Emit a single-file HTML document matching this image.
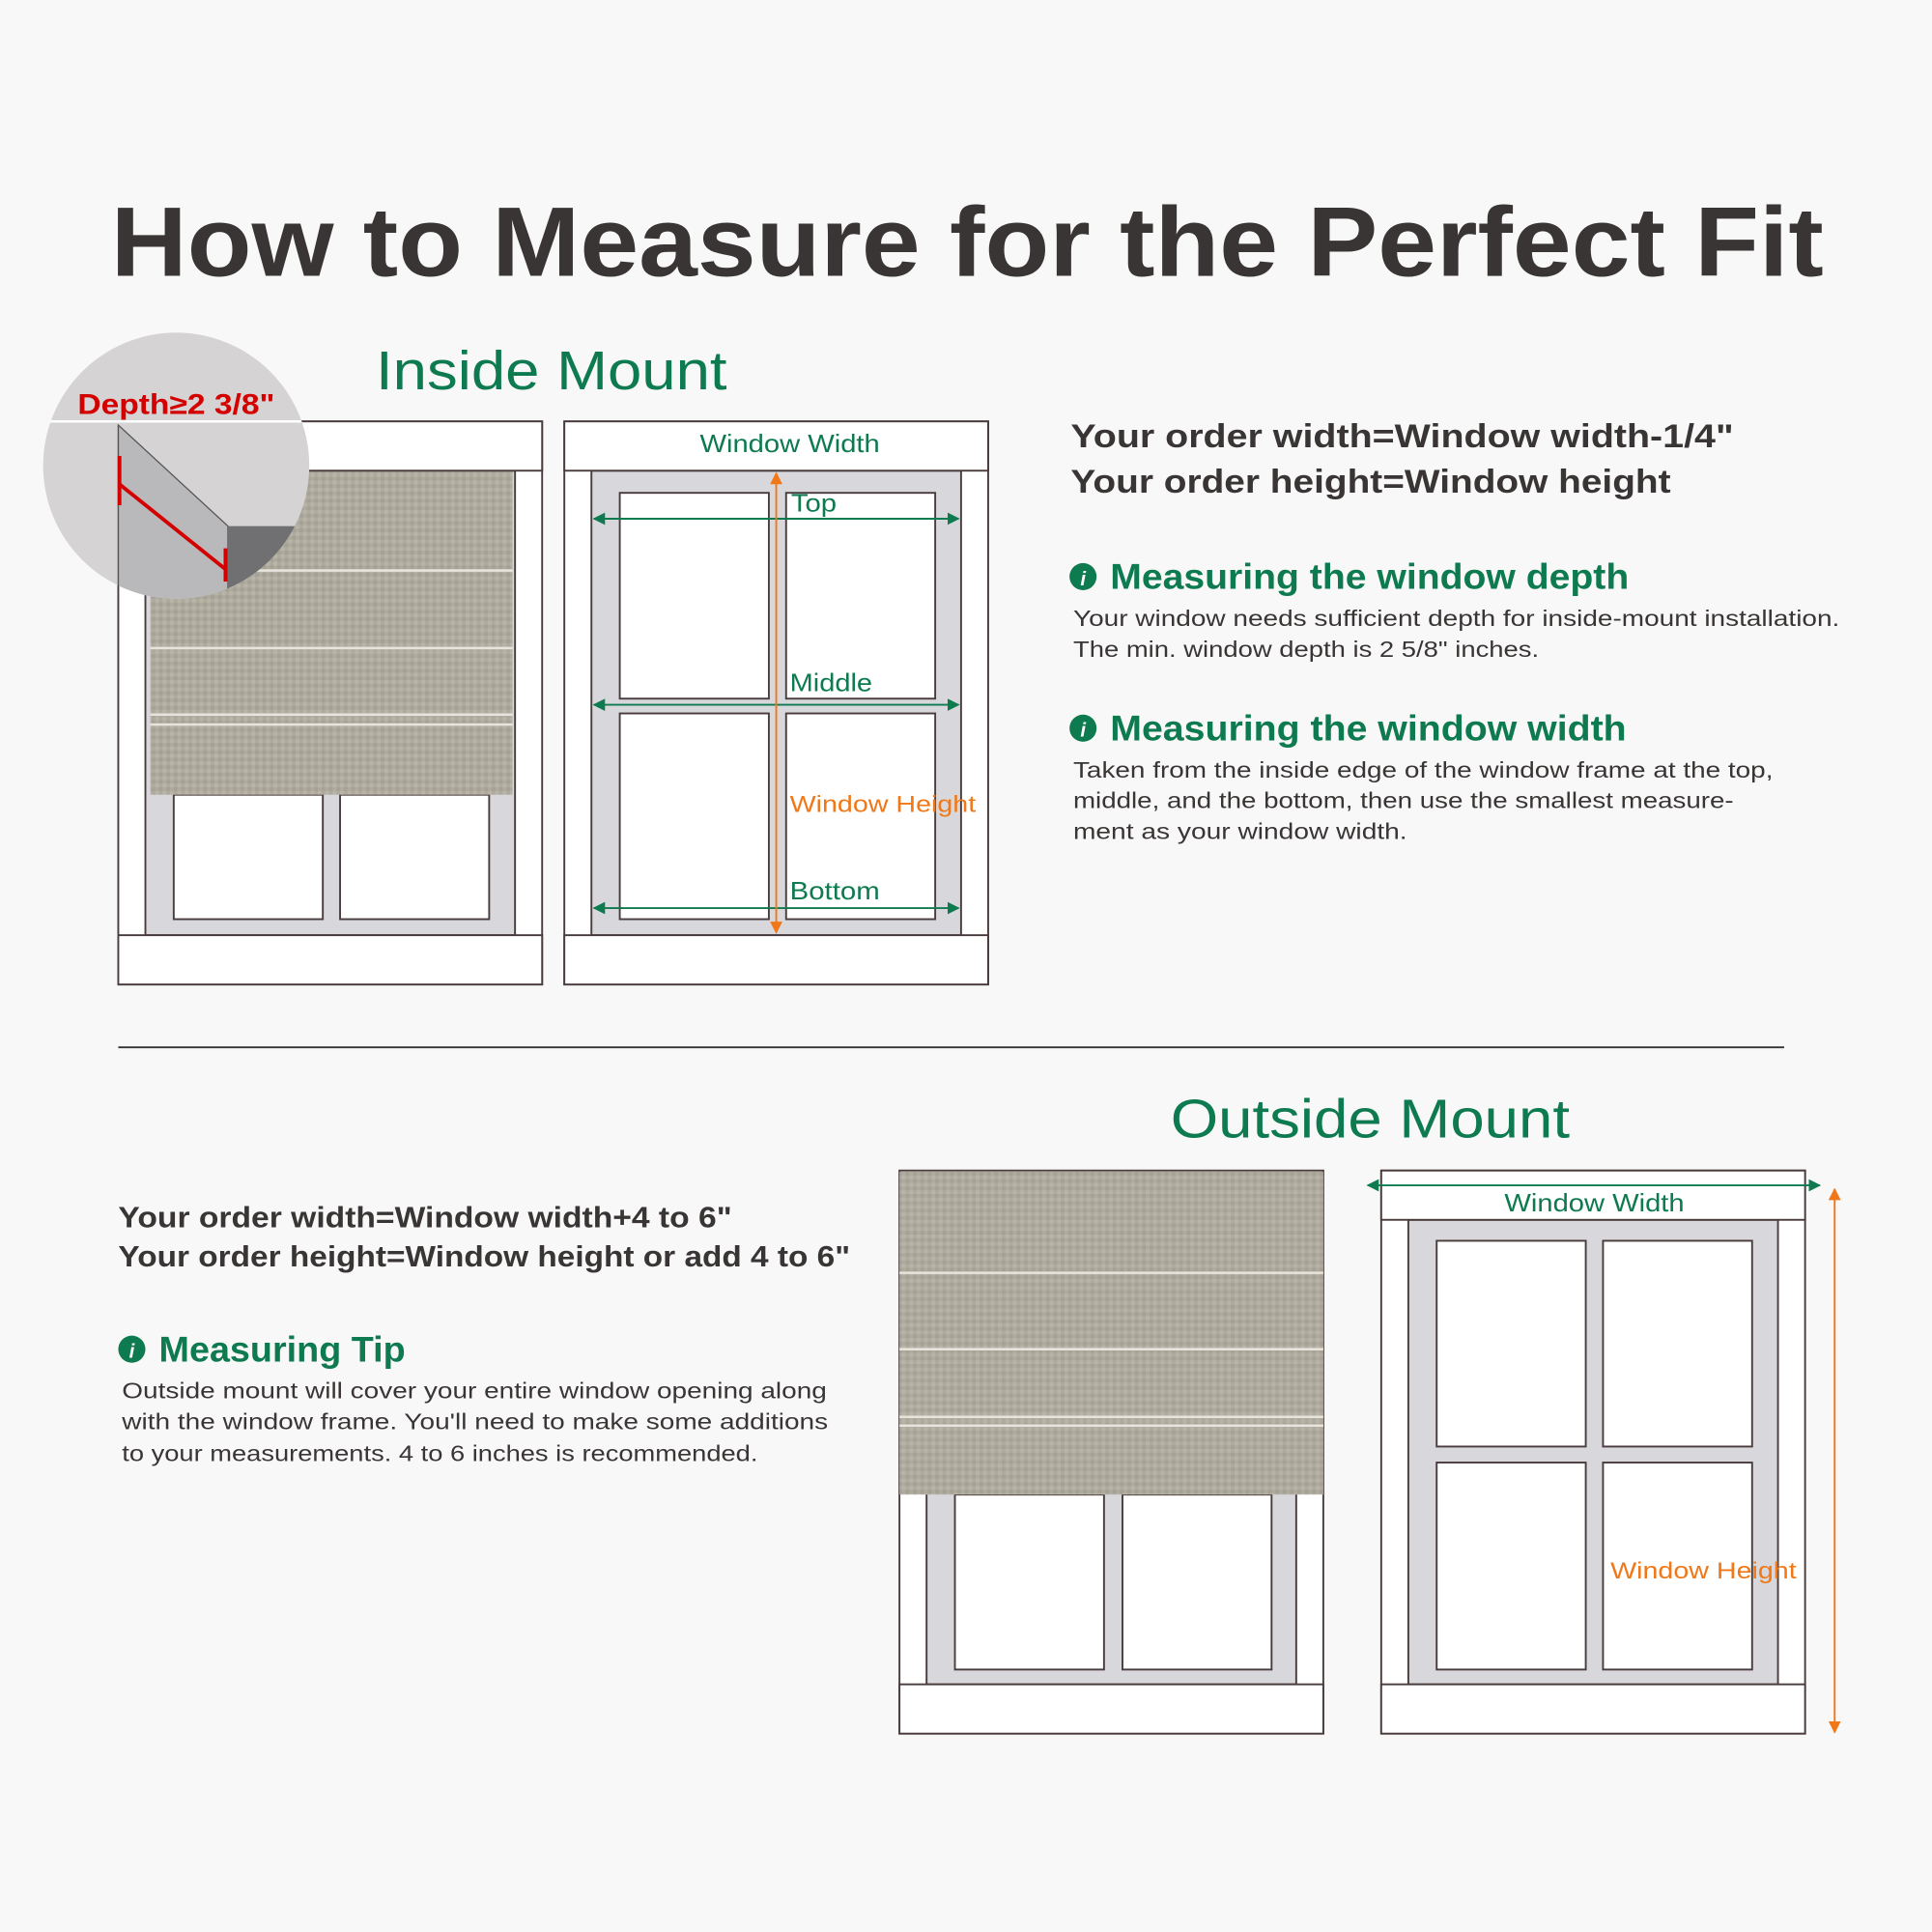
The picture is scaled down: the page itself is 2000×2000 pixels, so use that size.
<!DOCTYPE html>
<html><head><meta charset="utf-8"><style>
html,body{margin:0;padding:0;background:#f8f8f8;}
svg{display:block;}
text{font-family:"Liberation Sans",sans-serif;}
</style></head><body>
<svg width="2000" height="2000" viewBox="0 0 1568 1568" xmlns="http://www.w3.org/2000/svg">
<defs>
<pattern id="tex" width="6" height="6" patternUnits="userSpaceOnUse">
<rect width="6" height="6" fill="#aeab9e"/>
<rect x="0" y="0" width="3" height="3" fill="#b8b5a8"/>
<rect x="3" y="3" width="3" height="3" fill="#a5a295"/>
</pattern>
<clipPath id="cc"><circle cx="143" cy="378" r="108"/></clipPath>
<marker id="ag" viewBox="0 0 10 10" refX="9" refY="5" markerWidth="10" markerHeight="10" markerUnits="userSpaceOnUse" orient="auto-start-reverse"><path d="M0,0L10,5L0,10z" fill="#0e7a4f"/></marker>
<marker id="ao" viewBox="0 0 10 10" refX="9" refY="5" markerWidth="10" markerHeight="10" markerUnits="userSpaceOnUse" orient="auto-start-reverse"><path d="M0,0L10,5L0,10z" fill="#f07818"/></marker>
</defs>
<rect width="1568" height="1568" fill="#f8f8f8"/>
<text x="90" y="224" font-size="80" font-weight="bold" fill="#3a3535" textLength="1390" lengthAdjust="spacingAndGlyphs">How to Measure for the Perfect Fit</text>
<text x="305" y="316" font-size="44" fill="#0e7a4f" textLength="285" lengthAdjust="spacingAndGlyphs">Inside Mount</text>

<!-- Window 1 -->
<g stroke="#4a3c3c" stroke-width="1.5">
<rect x="96" y="342" width="344" height="457" fill="#fff"/>
<rect x="118" y="382" width="300" height="377" fill="#d8d8dc"/>
<rect x="96" y="342" width="344" height="40" fill="#fff"/>
<rect x="96" y="759" width="344" height="40" fill="#fff"/>
<rect x="141" y="645" width="121" height="101" fill="#fff"/>
<rect x="276" y="645" width="121" height="101" fill="#fff"/>
</g>
<rect x="122" y="383" width="294" height="262" fill="url(#tex)"/>
<g stroke="#e6e4dc" stroke-width="2"><line x1="122" y1="463" x2="416" y2="463"/><line x1="122" y1="526" x2="416" y2="526"/><line x1="122" y1="580" x2="416" y2="580"/><line x1="122" y1="588" x2="416" y2="588"/></g>

<!-- circle inset -->
<circle cx="143" cy="378" r="108" fill="#d5d3d3"/>
<g clip-path="url(#cc)">
<line x1="30" y1="342" x2="260" y2="342" stroke="#fff" stroke-width="2"/>
<polygon points="96,345 185,427 185,490 96,490" fill="#b9b9bb" stroke="#555" stroke-width="1"/>
<polygon points="185,427 260,427 260,490 185,490" fill="#707072"/>
<line x1="96" y1="345" x2="96" y2="490" stroke="#555"/>
</g>
<line x1="97" y1="393" x2="183" y2="462" stroke="#d40000" stroke-width="3"/>
<line x1="97" y1="370" x2="97" y2="410" stroke="#d40000" stroke-width="3"/>
<line x1="183" y1="445" x2="183" y2="472" stroke="#d40000" stroke-width="3"/>
<text x="63" y="336" font-size="23" font-weight="bold" fill="#d40000" textLength="160" lengthAdjust="spacingAndGlyphs">Depth≥2 3/8"</text>

<!-- Window 2 -->
<g stroke="#4a3c3c" stroke-width="1.5">
<rect x="458" y="342" width="344" height="457" fill="#fff"/>
<rect x="480" y="382" width="300" height="377" fill="#d8d8dc"/>
<rect x="458" y="342" width="344" height="40" fill="#fff"/>
<rect x="458" y="759" width="344" height="40" fill="#fff"/>
<rect x="503" y="400" width="121" height="167" fill="#fff"/>
<rect x="638" y="400" width="121" height="167" fill="#fff"/>
<rect x="503" y="579" width="121" height="167" fill="#fff"/>
<rect x="638" y="579" width="121" height="167" fill="#fff"/>
</g>
<text x="568" y="367" font-size="20" fill="#0e7a4f" textLength="146" lengthAdjust="spacingAndGlyphs">Window Width</text>
<g stroke="#0e7a4f" stroke-width="1.5" marker-start="url(#ag)" marker-end="url(#ag)">
<line x1="482" y1="421" x2="778" y2="421"/><line x1="482" y1="572" x2="778" y2="572"/><line x1="482" y1="737" x2="778" y2="737"/>
</g>
<line x1="630" y1="384" x2="630" y2="757" stroke="#f07818" stroke-width="1.5" marker-start="url(#ao)" marker-end="url(#ao)"/>
<text x="642" y="415" font-size="20" fill="#0e7a4f" textLength="37" lengthAdjust="spacingAndGlyphs">Top</text>
<text x="641" y="561" font-size="20" fill="#0e7a4f" textLength="67" lengthAdjust="spacingAndGlyphs">Middle</text>
<text x="641" y="659" font-size="19" fill="#f07818" textLength="151" lengthAdjust="spacingAndGlyphs">Window Height</text>
<text x="641" y="730" font-size="20" fill="#0e7a4f" textLength="73" lengthAdjust="spacingAndGlyphs">Bottom</text>

<!-- Right texts -->
<text x="869" y="363" font-size="27" font-weight="bold" fill="#3a3535" textLength="538" lengthAdjust="spacingAndGlyphs">Your order width=Window width-1/4"</text>
<text x="869" y="400" font-size="27" font-weight="bold" fill="#3a3535" textLength="487" lengthAdjust="spacingAndGlyphs">Your order height=Window height</text>
<circle cx="879" cy="468" r="11" fill="#0e7a4f"/><text x="879" y="475" font-size="16" font-style="italic" font-weight="bold" fill="#fff" text-anchor="middle">i</text>
<text x="901" y="478" font-size="29" font-weight="bold" fill="#0e7a4f" textLength="421" lengthAdjust="spacingAndGlyphs">Measuring the window depth</text>
<text x="871" y="508" font-size="18" fill="#3a3535" textLength="622" lengthAdjust="spacingAndGlyphs">Your window needs sufficient depth for inside-mount installation.</text>
<text x="871" y="533" font-size="18" fill="#3a3535" textLength="378" lengthAdjust="spacingAndGlyphs">The min. window depth is 2 5/8" inches.</text>
<circle cx="879" cy="591" r="11" fill="#0e7a4f"/><text x="879" y="598" font-size="16" font-style="italic" font-weight="bold" fill="#fff" text-anchor="middle">i</text>
<text x="901" y="601" font-size="29" font-weight="bold" fill="#0e7a4f" textLength="419" lengthAdjust="spacingAndGlyphs">Measuring the window width</text>
<text x="871" y="631" font-size="18" fill="#3a3535" textLength="568" lengthAdjust="spacingAndGlyphs">Taken from the inside edge of the window frame at the top,</text>
<text x="871" y="656" font-size="18" fill="#3a3535" textLength="536" lengthAdjust="spacingAndGlyphs">middle, and the bottom, then use the smallest measure-</text>
<text x="871" y="681" font-size="18" fill="#3a3535" textLength="271" lengthAdjust="spacingAndGlyphs">ment as your window width.</text>

<line x1="96" y1="850" x2="1448" y2="850" stroke="#333" stroke-width="1.5"/>

<text x="950" y="923" font-size="44" fill="#0e7a4f" textLength="324" lengthAdjust="spacingAndGlyphs">Outside Mount</text>
<text x="96" y="996" font-size="24" font-weight="bold" fill="#3a3535" textLength="498" lengthAdjust="spacingAndGlyphs">Your order width=Window width+4 to 6"</text>
<text x="96" y="1028" font-size="24" font-weight="bold" fill="#3a3535" textLength="594" lengthAdjust="spacingAndGlyphs">Your order height=Window height or add 4 to 6"</text>
<circle cx="107" cy="1095" r="11" fill="#0e7a4f"/><text x="107" y="1102" font-size="16" font-style="italic" font-weight="bold" fill="#fff" text-anchor="middle">i</text>
<text x="129" y="1105" font-size="29" font-weight="bold" fill="#0e7a4f" textLength="200" lengthAdjust="spacingAndGlyphs">Measuring Tip</text>
<text x="99" y="1135" font-size="18" fill="#3a3535" textLength="572" lengthAdjust="spacingAndGlyphs">Outside mount will cover your entire window opening along</text>
<text x="99" y="1160" font-size="18" fill="#3a3535" textLength="573" lengthAdjust="spacingAndGlyphs">with the window frame. You'll need to make some additions</text>
<text x="99" y="1186" font-size="18" fill="#3a3535" textLength="516" lengthAdjust="spacingAndGlyphs">to your measurements. 4 to 6 inches is recommended.</text>

<!-- Window 3 -->
<g stroke="#4a3c3c" stroke-width="1.5">
<rect x="730" y="950" width="344" height="457" fill="#fff"/>
<rect x="752" y="990" width="300" height="377" fill="#d8d8dc"/>
<rect x="730" y="1367" width="344" height="40" fill="#fff"/>
<rect x="775" y="1213" width="121" height="142" fill="#fff"/>
<rect x="911" y="1213" width="121" height="142" fill="#fff"/>
</g>
<rect x="730" y="951" width="344" height="262" fill="url(#tex)"/>
<g stroke="#e6e4dc" stroke-width="2"><line x1="730" y1="1033" x2="1074" y2="1033"/><line x1="730" y1="1095" x2="1074" y2="1095"/><line x1="730" y1="1150" x2="1074" y2="1150"/><line x1="730" y1="1157" x2="1074" y2="1157"/></g>

<!-- Window 4 -->
<g stroke="#4a3c3c" stroke-width="1.5">
<rect x="1121" y="950" width="344" height="457" fill="#fff"/>
<rect x="1143" y="990" width="300" height="377" fill="#d8d8dc"/>
<rect x="1121" y="950" width="344" height="40" fill="#fff"/>
<rect x="1121" y="1367" width="344" height="40" fill="#fff"/>
<rect x="1166" y="1007" width="121" height="167" fill="#fff"/>
<rect x="1301" y="1007" width="121" height="167" fill="#fff"/>
<rect x="1166" y="1187" width="121" height="168" fill="#fff"/>
<rect x="1301" y="1187" width="121" height="168" fill="#fff"/>
</g>
<line x1="1110" y1="962" x2="1477" y2="962" stroke="#0e7a4f" stroke-width="1.5" marker-start="url(#ag)" marker-end="url(#ag)"/>
<text x="1221" y="983" font-size="20" fill="#0e7a4f" textLength="146" lengthAdjust="spacingAndGlyphs">Window Width</text>
<line x1="1489" y1="965" x2="1489" y2="1406" stroke="#f07818" stroke-width="1.5" marker-start="url(#ao)" marker-end="url(#ao)"/>
<text x="1307" y="1281" font-size="19" fill="#f07818" textLength="151" lengthAdjust="spacingAndGlyphs">Window Height</text>
</svg>
</body></html>
